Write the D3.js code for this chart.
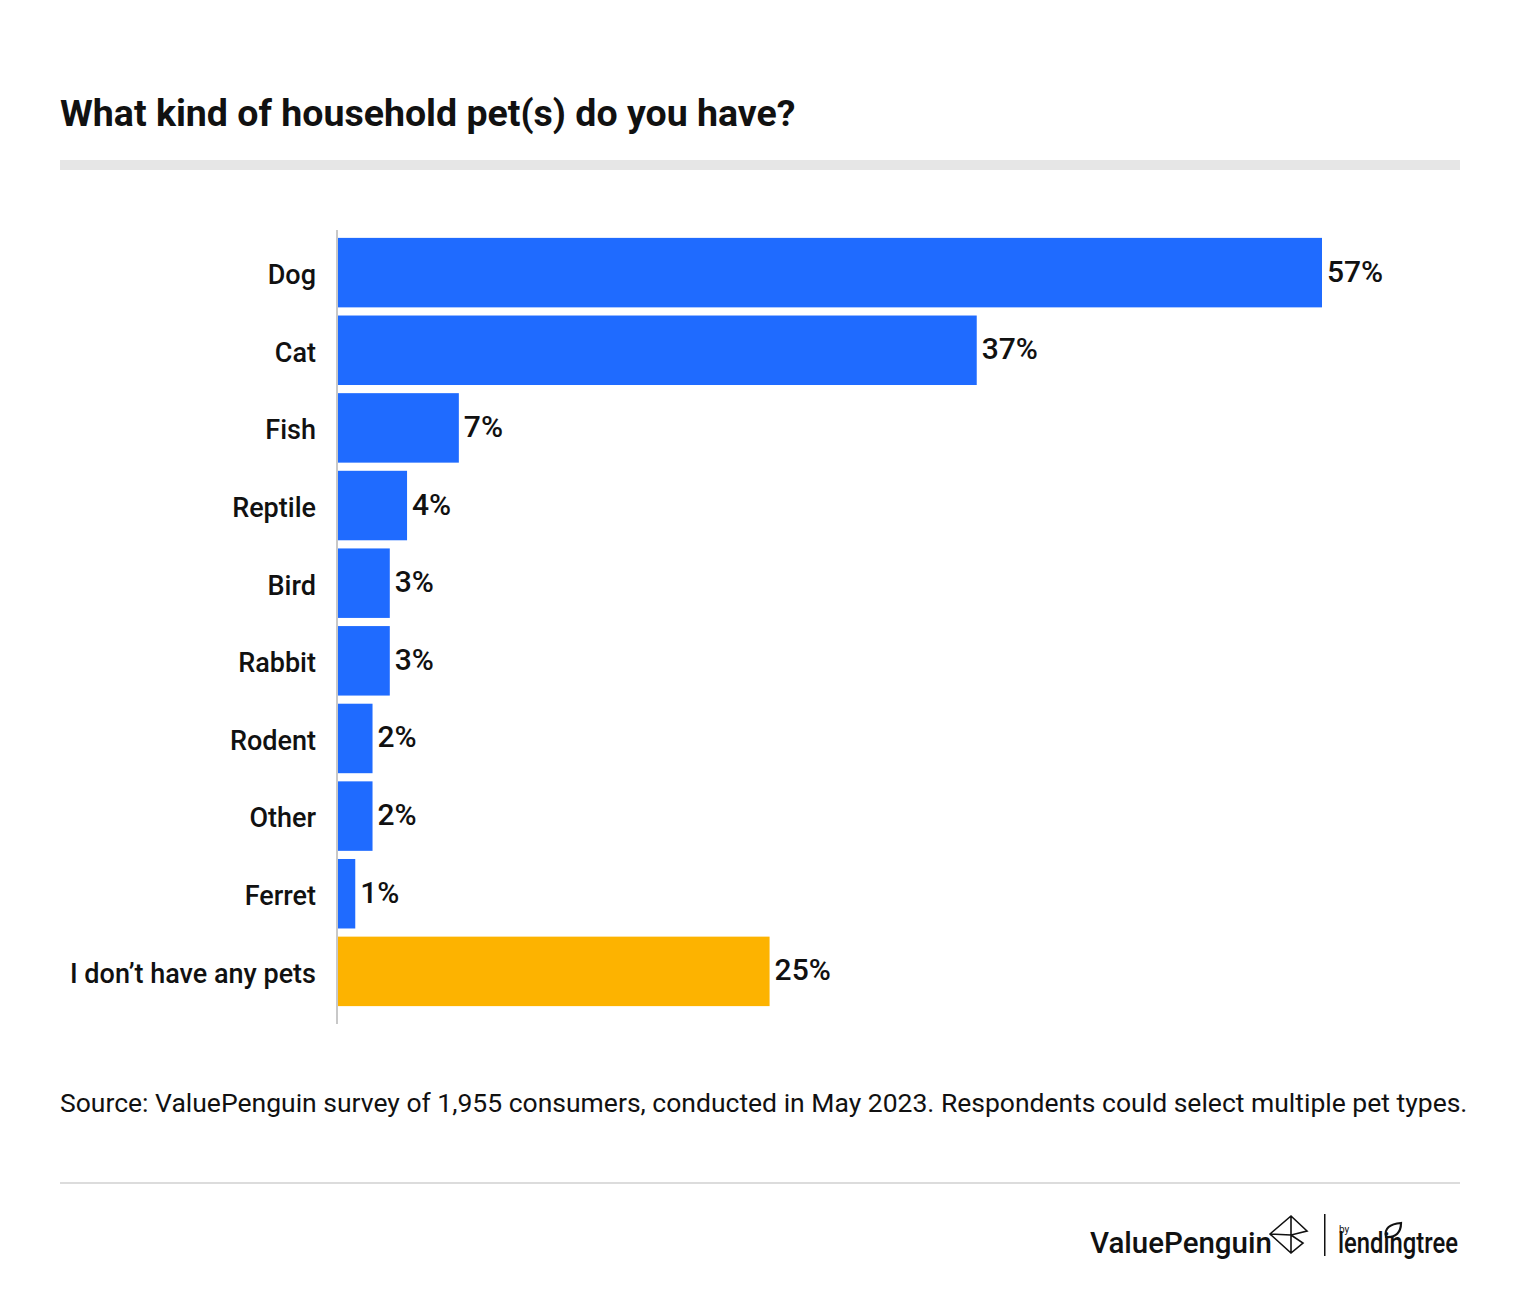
<!DOCTYPE html>
<html>
<head>
<meta charset="utf-8">
<script src="https://cdn.jsdelivr.net/npm/d3@7"></script>
<style>
  html, body { margin: 0; padding: 0; background: #fff; }
  text { font-family: Roboto, sans-serif; fill: #111; }
  .domain { stroke: #c8c8c8; stroke-width: 2; }
</style>
</head>
<body>
<div id="chart"></div>
<script>
// chart values
var categories = ['Dog', 'Cat', 'Fish', 'Reptile', 'Bird', 'Rabbit', 'Rodent', 'Other', 'Ferret', 'I don\u2019t have any pets'];
var shares = [57, 37, 7, 4, 3, 3, 2, 2, 1, 25];
var noPetCategory = 'I don\u2019t have any pets';

var titleText = 'What kind of household pet(s) do you have?';
var sourceText = 'Source: ValuePenguin survey of 1,955 consumers, conducted in May 2023. Respondents could select multiple pet types.';

var width = 1520, height = 1292;
var svg = d3.select('#chart').append('svg')
  .attr('width', width)
  .attr('height', height)
  .style('display', 'block');

// scales
var scaleX = d3.scaleLinear().domain([0, 57]).range([338, 1322]);
var scaleY = d3.scaleBand().domain(categories)
  .range([234, 1010])
  .paddingInner(0.105)
  .paddingOuter(0.05);

// header
svg.append('text')
  .attr('x', 60).attr('y', 126)
  .attr('font-size', 37.5).attr('font-weight', 700)
  .text(titleText);
svg.append('rect')
  .attr('x', 60).attr('y', 160).attr('width', 1400).attr('height', 10)
  .attr('fill', '#e6e6e6');

// bars
svg.append('g').attr('id', 'bars')
  .selectAll('rect')
  .data(categories)
  .join('rect')
  .attr('x', scaleX(0))
  .attr('y', function(d) { return scaleY(d); })
  .attr('width', function(d, i) { return scaleX(shares[i]) - scaleX(0); })
  .attr('height', scaleY.bandwidth())
  .attr('fill', function(d) { return d === noPetCategory ? '#fdb300' : '#1f6bff'; });

// value labels
svg.append('g').attr('id', 'bar-labels')
  .selectAll('text')
  .data(categories)
  .join('text')
  .attr('x', function(d, i) { return scaleX(shares[i]) + 5; })
  .attr('y', function(d) { return scaleY(d) + scaleY.bandwidth() / 2 + 9; })
  .attr('font-size', 30).attr('font-weight', 500)
  .text(function(d, i) { return shares[i] + '%'; });

// category axis
var axisY = svg.append('g')
  .attr('transform', 'translate(337,0)')
  .call(d3.axisLeft(scaleY).tickSize(0).tickPadding(21));
axisY.select('.domain').attr('d', 'M0,230V1024');
axisY.selectAll('text')
  .attr('font-size', 27).attr('font-weight', 500)
  .attr('font-family', 'Roboto, sans-serif')
  .attr('dy', '0.42em');

// source
svg.append('text')
  .attr('x', 60).attr('y', 1112)
  .attr('font-size', 26.5)
  .attr('fill', '#222')
  .text(sourceText);

// footer
svg.append('rect')
  .attr('x', 60).attr('y', 1182).attr('width', 1400).attr('height', 2)
  .attr('fill', '#dcdcdc');

var logo = svg.append('g').attr('id', 'logos');
logo.append('text')
  .attr('x', 1090).attr('y', 1253)
  .attr('font-size', 29.5).attr('font-weight', 500)
  .text('ValuePenguin');
logo.append('path')
  .attr('d', 'M1270,1234 L1291,1216 L1307,1231 L1291,1235 L1303,1243 L1291,1253 Z M1291,1216 L1291,1253 M1270,1234 L1291,1235')
  .attr('fill', 'none').attr('stroke', '#111').attr('stroke-width', 1.6);
logo.append('rect')
  .attr('x', 1324).attr('y', 1214).attr('width', 1.5).attr('height', 42)
  .attr('fill', '#111');
logo.append('text')
  .attr('x', 1339).attr('y', 1233)
  .attr('font-size', 10)
  .text('by');
logo.append('text')
  .attr('x', 1338).attr('y', 1253)
  .attr('font-size', 29).attr('font-weight', 500)
  .attr('textLength', 120).attr('lengthAdjust', 'spacingAndGlyphs')
  .text('lendingtree');
logo.append('path')
  .attr('d', 'M1386,1237 C1384,1228 1390,1224 1401,1223 C1401,1232 1396,1238 1386,1237 Z')
  .attr('fill', 'none').attr('stroke', '#111').attr('stroke-width', 2.2);
</script>
</body>
</html>
